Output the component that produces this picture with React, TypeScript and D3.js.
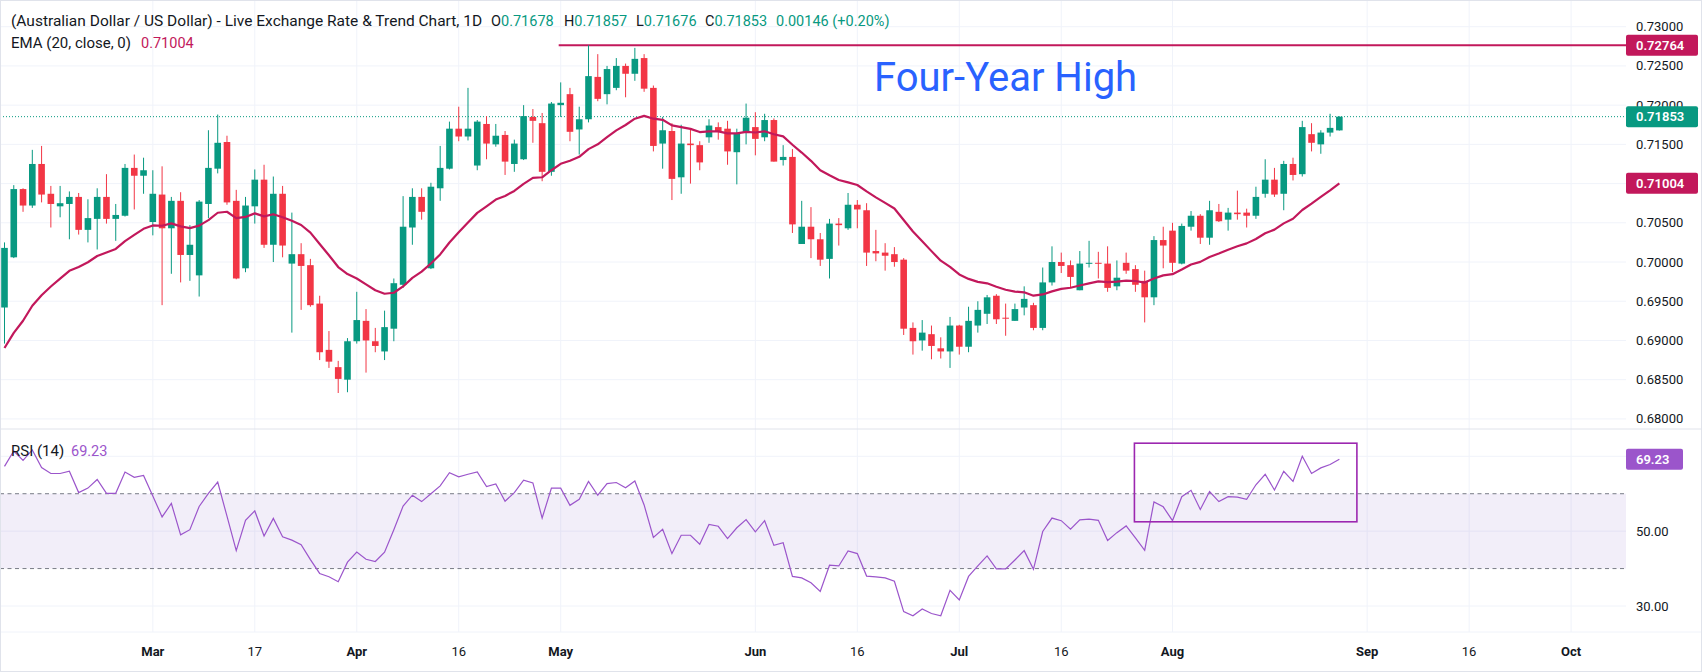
import React from 'react';
import * as d3 from 'd3';

// AUD/USD daily candles (first bar 2026-02-06, weekdays only)
const firstDay = '2026-02-06';
const opens = [
  0.6942, 0.7006, 0.7093, 0.7072, 0.7125, 0.7087, 0.7071, 0.7074, 0.7083, 0.7041,
  0.7055, 0.7083, 0.7055, 0.7059, 0.7120, 0.7110, 0.7051, 0.7086, 0.7043, 0.7078,
  0.7009, 0.6983, 0.7074, 0.7119, 0.7153, 0.7078, 0.6992, 0.7071, 0.7105, 0.7022,
  0.7087, 0.6998, 0.7010, 0.6996, 0.6947, 0.6888, 0.6866, 0.6850, 0.6899, 0.6925,
  0.6899, 0.6886, 0.6915, 0.6971, 0.7044, 0.7083, 0.6992, 0.7094, 0.7119, 0.7170,
  0.7160, 0.7123, 0.7176, 0.7150, 0.7162, 0.7125, 0.7131, 0.7185, 0.7177, 0.7115,
  0.7200, 0.7214, 0.7169, 0.7182, 0.7236, 0.7214, 0.7222, 0.7250, 0.7240, 0.7260,
  0.7222, 0.7151, 0.7167, 0.7108, 0.7151, 0.7149, 0.7159, 0.7172, 0.7170, 0.7140,
  0.7165, 0.7172, 0.7159, 0.7181, 0.7130, 0.7134, 0.7023, 0.7045, 0.7029, 0.7004,
  0.7049, 0.7043, 0.7073, 0.7066, 0.7014, 0.7012, 0.7010, 0.7003, 0.6916, 0.6900,
  0.6908, 0.6890, 0.6886, 0.6919, 0.6892, 0.6919, 0.6934, 0.6957, 0.6929, 0.6925,
  0.6942, 0.6945, 0.6916, 0.6974, 0.7000, 0.6996, 0.6964, 0.6998, 0.6999, 0.6998,
  0.6969, 0.6999, 0.6991, 0.6976, 0.6955, 0.7028, 0.7040, 0.6998, 0.7045, 0.7059,
  0.7031, 0.7064, 0.7054, 0.7063, 0.7063, 0.7059, 0.7087, 0.7105, 0.7087, 0.7125,
  0.7112, 0.7163, 0.7150, 0.7165, 0.71678,
];
const highs = [
  0.7025, 0.7098, 0.7094, 0.7143, 0.7148, 0.7097, 0.7097, 0.7090, 0.7088, 0.7080,
  0.7094, 0.7112, 0.7074, 0.7125, 0.7137, 0.7133, 0.7117, 0.7122, 0.7083, 0.7089,
  0.7047, 0.7079, 0.7168, 0.7188, 0.7161, 0.7092, 0.7083, 0.7118, 0.7124, 0.7109,
  0.7097, 0.7063, 0.7024, 0.7004, 0.6957, 0.6912, 0.6874, 0.6903, 0.6962, 0.6940,
  0.6916, 0.6938, 0.6979, 0.7084, 0.7094, 0.7094, 0.7101, 0.7148, 0.7179, 0.7198,
  0.7222, 0.7181, 0.7186, 0.7176, 0.7167, 0.7156, 0.7200, 0.7195, 0.7190, 0.7204,
  0.7229, 0.7222, 0.7198, 0.72764, 0.7265, 0.7250, 0.7260, 0.7253, 0.7273, 0.7265,
  0.7225, 0.7185, 0.7177, 0.7175, 0.7169, 0.7154, 0.7182, 0.7178, 0.7180, 0.7170,
  0.7202, 0.7191, 0.7189, 0.7183, 0.7149, 0.7144, 0.7078, 0.7070, 0.7037, 0.7055,
  0.7056, 0.7088, 0.7079, 0.7075, 0.7041, 0.7024, 0.7019, 0.7005, 0.6923, 0.6926,
  0.6919, 0.6904, 0.6930, 0.6920, 0.6943, 0.6950, 0.6958, 0.6959, 0.6947, 0.6947,
  0.6969, 0.6948, 0.6993, 0.7020, 0.7012, 0.7002, 0.7014, 0.7027, 0.7013, 0.7020,
  0.7002, 0.7012, 0.6996, 0.6989, 0.7033, 0.7045, 0.7050, 0.7049, 0.7065, 0.7061,
  0.7078, 0.7074, 0.7069, 0.7091, 0.7068, 0.7096, 0.7131, 0.7120, 0.7129, 0.7133,
  0.7180, 0.7177, 0.7168, 0.7189, 0.71857,
];
const lows = [
  0.6896, 0.7005, 0.7064, 0.7069, 0.7076, 0.7044, 0.7057, 0.7029, 0.7035, 0.7025,
  0.7016, 0.7049, 0.7027, 0.7058, 0.7067, 0.7087, 0.7034, 0.6945, 0.6985, 0.6974,
  0.6976, 0.6956, 0.7056, 0.7113, 0.7073, 0.6978, 0.6987, 0.7049, 0.7018, 0.7000,
  0.7006, 0.6910, 0.6939, 0.6943, 0.6875, 0.6865, 0.6833, 0.6834, 0.6896, 0.6859,
  0.6885, 0.6875, 0.6899, 0.6967, 0.7022, 0.7054, 0.6991, 0.7078, 0.7118, 0.7154,
  0.7155, 0.7117, 0.7131, 0.7147, 0.7111, 0.7115, 0.7130, 0.7152, 0.7103, 0.7110,
  0.7185, 0.7154, 0.7137, 0.7178, 0.7205, 0.7201, 0.7219, 0.7210, 0.7231, 0.7217,
  0.7141, 0.7119, 0.7079, 0.7087, 0.7100, 0.7117, 0.7152, 0.7156, 0.7124, 0.7099,
  0.7150, 0.7136, 0.7154, 0.7128, 0.7123, 0.7037, 0.7023, 0.7005, 0.6995, 0.6979,
  0.7021, 0.7041, 0.7043, 0.6995, 0.7001, 0.6989, 0.6994, 0.6907, 0.6882, 0.6887,
  0.6876, 0.6877, 0.6865, 0.6882, 0.6885, 0.6910, 0.6921, 0.6921, 0.6906, 0.6925,
  0.6932, 0.6913, 0.6913, 0.6970, 0.6986, 0.6967, 0.6964, 0.6993, 0.6979, 0.6962,
  0.6964, 0.6985, 0.6962, 0.6923, 0.6945, 0.6992, 0.6987, 0.6997, 0.7040, 0.7023,
  0.7022, 0.7051, 0.7040, 0.7054, 0.7044, 0.7055, 0.7082, 0.7083, 0.7066, 0.7104,
  0.7109, 0.7141, 0.7138, 0.7160, 0.71676,
];
const closes = [
  0.7018, 0.7093, 0.7072, 0.7125, 0.7086, 0.7074, 0.7075, 0.7083, 0.7041, 0.7056,
  0.7083, 0.7055, 0.7060, 0.7120, 0.7110, 0.7117, 0.7087, 0.7043, 0.7078, 0.7009,
  0.7022, 0.7077, 0.7120, 0.7152, 0.7076, 0.6979, 0.7072, 0.7105, 0.7022, 0.7087,
  0.7021, 0.7010, 0.6995, 0.6945, 0.6885, 0.6873, 0.6851, 0.6899, 0.6926, 0.6900,
  0.6893, 0.6917, 0.6973, 0.7045, 0.7083, 0.7064, 0.7096, 0.7120, 0.7170, 0.7160,
  0.7170, 0.7179, 0.7151, 0.7161, 0.7128, 0.7151, 0.7186, 0.7180, 0.7115, 0.7202,
  0.7203, 0.7166, 0.7182, 0.7237, 0.7208, 0.7246, 0.7250, 0.7240, 0.7259, 0.7221,
  0.7148, 0.7168, 0.7106, 0.7151, 0.7149, 0.7127, 0.7174, 0.7167, 0.7141, 0.7164,
  0.7184, 0.7157, 0.7181, 0.7128, 0.7134, 0.7048, 0.7045, 0.7029, 0.7003, 0.7049,
  0.7047, 0.7073, 0.7067, 0.7012, 0.7011, 0.7008, 0.7000, 0.6915, 0.6899, 0.6910,
  0.6893, 0.6886, 0.6919, 0.6892, 0.6925, 0.6939, 0.6955, 0.6927, 0.6928, 0.6940,
  0.6953, 0.6916, 0.6974, 0.7000, 0.6995, 0.6981, 0.6998, 0.6999, 0.6998, 0.6967,
  0.6980, 0.6989, 0.6971, 0.6955, 0.7028, 0.7021, 0.6999, 0.7046, 0.7059, 0.7031,
  0.7066, 0.7052, 0.7063, 0.7061, 0.7059, 0.7083, 0.7105, 0.7086, 0.7125, 0.7111,
  0.7172, 0.7152, 0.7165, 0.7171, 0.71853,
];
// RSI(14) line
const rsiValues = [
  67.3, 71.4, 68.9, 71.7, 67.0, 65.4, 65.4, 66.0, 60.3, 61.5,
  63.8, 60.1, 60.1, 65.8, 64.4, 64.9, 59.4, 53.8, 57.4, 49.0,
  50.4, 56.6, 60.1, 63.1, 54.0, 44.8, 52.9, 55.4, 48.7, 53.4,
  48.5, 47.6, 46.4, 42.4, 38.7, 37.8, 36.5, 41.7, 44.4, 42.5,
  41.9, 44.4, 50.4, 56.7, 59.6, 57.9, 60.0, 62.1, 65.6, 64.5,
  65.2, 65.8, 61.9, 62.6, 58.0, 60.3, 63.6, 62.9, 53.5, 61.5,
  61.5, 56.9, 58.5, 63.3, 59.6, 62.7, 63.0, 61.6, 63.4, 57.0,
  48.3, 50.5, 44.0, 48.9, 48.9, 46.5, 51.8, 51.3, 48.0, 50.9,
  53.1, 49.8, 52.8, 46.2, 46.9, 37.9, 37.5, 36.2, 33.9, 40.9,
  40.7, 44.7, 44.0, 38.0, 37.8, 37.5, 36.6, 28.5, 27.4, 29.2,
  28.0, 27.4, 34.2, 31.6, 37.9, 40.7, 43.4, 39.9, 39.9, 42.3,
  44.8, 39.8, 49.9, 53.5, 52.8, 50.5, 53.0, 53.2, 52.9, 47.5,
  49.6, 51.4, 48.2, 44.9, 57.8, 56.5, 52.8, 59.2, 60.9, 55.8,
  60.6, 57.9, 59.2, 59.1, 58.5, 62.4, 65.2, 61.0, 66.0, 63.3,
  70.0, 65.4, 66.9, 67.8, 69.23,
];

const emaBefore = 0.6877; // EMA(20) value just before the first visible bar
const emaLength = 20;

const priceTicks = [0.68, 0.685, 0.69, 0.695, 0.7, 0.705, 0.71, 0.715, 0.72, 0.725, 0.73];
const rsiTicks = [30, 50, 70];
const rsiBand = [40, 60];
const timeTicks = [
  { date: '2026-03-02', label: 'Mar', month: true },
  { date: '2026-03-17', label: '17', month: false },
  { date: '2026-04-01', label: 'Apr', month: true },
  { date: '2026-04-16', label: '16', month: false },
  { date: '2026-05-01', label: 'May', month: true },
  { date: '2026-06-01', label: 'Jun', month: true },
  { date: '2026-06-16', label: '16', month: false },
  { date: '2026-07-01', label: 'Jul', month: true },
  { date: '2026-07-16', label: '16', month: false },
  { date: '2026-08-03', label: 'Aug', month: true },
  { date: '2026-09-01', label: 'Sep', month: true },
  { date: '2026-09-16', label: '16', month: false },
  { date: '2026-10-01', label: 'Oct', month: true },
];

const highLevel = 0.72764;
const highFrom = '2026-05-01';
const rsiBox = { from: '2026-07-28', to: '2026-08-31', top: 73.5, bottom: 52.5 };

const title = '(Australian Dollar / US Dollar) - Live Exchange Rate & Trend Chart, 1D';
const changeText = '0.00146 (+0.20%)';
const annotation = 'Four-Year High';

const W = 1702;
const H = 672;
const PANE_R = 1626;
const PRICE_B = 429;
const RSI_B = 632;
const GREEN = '#089981';
const RED = '#F23645';
const EMA_C = '#C2185B';
const RSI_C = '#9B55CB';
const GRID = '#F0F3FA';
const TEXT = '#131722';
const FONT = "Roboto, 'Noto Sans', sans-serif";

function tradingDays(start: string, n: number): string[] {
  const out: string[] = [];
  let d = new Date(start + 'T00:00:00Z');
  while (out.length < n) {
    const wd = d.getUTCDay();
    if (wd !== 0 && wd !== 6) out.push(d.toISOString().slice(0, 10));
    d = new Date(d.getTime() + 86400000);
  }
  return out;
}

const App: React.FC = () => {
  const days = tradingDays(firstDay, 180);
  const idx = (date: string) => days.indexOf(date);

  const x = d3.scaleLinear().domain([0, 169]).range([4.5, 1571.1]);
  const y = d3.scaleLinear().domain([0.68, 0.73]).range([418.9, 26.7]);
  const ry = d3.scaleLinear().domain([30, 70]).range([606, 456.3]);
  const bodyW = 6.6;

  const k = 2 / (emaLength + 1);
  const ema: number[] = [];
  let prev = emaBefore;
  closes.forEach((c) => {
    prev = prev + k * (c - prev);
    ema.push(prev);
  });

  const emaLine = d3.line<number>().x((_, i) => x(i)).y((d) => y(d));
  const rsiLine = d3.line<number>().x((_, i) => x(i)).y((d) => ry(d));

  const last = closes.length - 1;
  const fmt5 = d3.format('.5f');
  const fmt2 = d3.format('.2f');

  const priceBox = (v: number, label: string, color: string) => (
    <g key={label}>
      <rect x={PANE_R} y={y(v) - 10.5} width={72} height={21} rx={2} fill={color} />
      <text x={1636} y={y(v) + 4.5} fill="#fff" fontSize={13} fontWeight={600}>{label}</text>
    </g>
  );

  // legend pieces: [letter, value, x of the letter]
  const ohlc: [string, number, number][] = [
    ['O', opens[last], 491],
    ['H', highs[last], 564],
    ['L', lows[last], 636],
    ['C', closes[last], 705],
  ];

  return (
    <>
      <style>{'html,body{margin:0;padding:0;background:#fff}'}</style>
      <svg width={W} height={H} style={{ display: 'block', fontFamily: FONT }}>
        <defs>
          <clipPath id="pricePane"><rect x={0} y={0} width={PANE_R} height={PRICE_B} /></clipPath>
          <clipPath id="rsiPane"><rect x={0} y={PRICE_B} width={PANE_R} height={RSI_B - PRICE_B} /></clipPath>
        </defs>
        <rect x={0} y={0} width={W} height={H} fill="#fff" />

        {/* grid */}
        {timeTicks.map((t) => (
          <line key={t.date} x1={x(idx(t.date))} x2={x(idx(t.date))} y1={0} y2={RSI_B} stroke={GRID} />
        ))}
        {priceTicks.map((p) => (
          <line key={p} x1={0} x2={PANE_R} y1={y(p)} y2={y(p)} stroke={GRID} />
        ))}
        {rsiTicks.map((r) => (
          <line key={r} x1={0} x2={PANE_R} y1={ry(r)} y2={ry(r)} stroke={GRID} />
        ))}

        {/* price pane */}
        <g clipPath="url(#pricePane)">
          <line x1={0} x2={PANE_R} y1={y(closes[last])} y2={y(closes[last])} stroke={GREEN} strokeDasharray="1 2" />
          <line x1={x(idx(highFrom)) - 2} x2={PANE_R} y1={y(highLevel)} y2={y(highLevel)} stroke={EMA_C} strokeWidth={2} />
          {closes.map((c, i) => {
            const o = opens[i];
            const col = c >= o ? GREEN : RED;
            const top = y(Math.max(o, c));
            const bot = y(Math.min(o, c));
            return (
              <g key={i}>
                <line x1={x(i)} x2={x(i)} y1={y(highs[i])} y2={y(lows[i])} stroke={col} strokeWidth={1} />
                <rect x={x(i) - bodyW / 2} y={top} width={bodyW} height={Math.max(1, bot - top)} fill={col} />
              </g>
            );
          })}
          <path d={emaLine(ema) || ''} fill="none" stroke={EMA_C} strokeWidth={2.2} strokeLinejoin="round" />
          <text x={874} y={91} fill="#2962FF" fontSize={40}>{annotation}</text>
        </g>

        {/* rsi pane */}
        <g clipPath="url(#rsiPane)">
          <rect x={0} y={ry(rsiBand[1])} width={PANE_R} height={ry(rsiBand[0]) - ry(rsiBand[1])} fill="rgba(126,87,194,0.1)" />
          {rsiBand.map((b) => (
            <line key={b} x1={0} x2={PANE_R} y1={ry(b)} y2={ry(b)} stroke="#787B86" strokeDasharray="4 3.5" />
          ))}
          <path d={rsiLine(rsiValues) || ''} fill="none" stroke={RSI_C} strokeWidth={1.2} />
          <rect
            x={x(idx(rsiBox.from)) - 1}
            y={ry(rsiBox.top)}
            width={x(idx(rsiBox.to)) - x(idx(rsiBox.from))}
            height={ry(rsiBox.bottom) - ry(rsiBox.top)}
            fill="none"
            stroke="#9C27B0"
            strokeWidth={1.6}
          />
        </g>

        {/* pane borders */}
        <line x1={0} x2={W} y1={PRICE_B} y2={PRICE_B} stroke="#E0E3EB" />
        <line x1={0} x2={W} y1={RSI_B} y2={RSI_B} stroke="#F0F3FA" />
        <rect x={0.5} y={0.5} width={W - 1} height={H - 1} fill="none" stroke="#E0E3EB" />

        {/* legends */}
        <text x={11} y={25.5} fontSize={15.5} fill={TEXT}>{title}</text>
        {ohlc.map(([letter, v, lx]) => (
          <text key={letter} x={lx} y={25.5} fontSize={14.5} fill={TEXT}>
            {letter}<tspan fill={GREEN}>{fmt5(v)}</tspan>
          </text>
        ))}
        <text x={776} y={25.5} fontSize={14.5} fill={GREEN}>{changeText}</text>
        <text x={11} y={48} fontSize={15} fill={TEXT}>EMA (20, close, 0)</text>
        <text x={141} y={48} fontSize={14.5} fill={EMA_C}>{fmt5(ema[last])}</text>
        <text x={11} y={456} fontSize={15} fill={TEXT}>RSI (14)</text>
        <text x={71} y={456} fontSize={14.5} fill={RSI_C}>{fmt2(rsiValues[last])}</text>

        {/* price axis */}
        {priceTicks.map((p) => (
          <text key={p} x={1636} y={y(p) + 4.5} fontSize={13} fill={TEXT}>{fmt5(p)}</text>
        ))}
        {rsiTicks.map((r) => (
          <text key={r} x={1636} y={ry(r) + 4.5} fontSize={13} fill={TEXT}>{fmt2(r)}</text>
        ))}
        {priceBox(highLevel, fmt5(highLevel), EMA_C)}
        {priceBox(closes[last], fmt5(closes[last]), GREEN)}
        {priceBox(ema[last], fmt5(ema[last]), EMA_C)}
        <rect x={PANE_R} y={ry(rsiValues[last]) - 10.5} width={57} height={21} rx={2} fill={RSI_C} />
        <text x={1636} y={ry(rsiValues[last]) + 4.5} fill="#fff" fontSize={13} fontWeight={600}>{fmt2(rsiValues[last])}</text>

        {/* time axis */}
        {timeTicks.map((t) => (
          <text
            key={t.date}
            x={x(idx(t.date))}
            y={656}
            textAnchor="middle"
            fontSize={13}
            fontWeight={t.month ? 700 : 400}
            fill={TEXT}
          >
            {t.label}
          </text>
        ))}
      </svg>
    </>
  );
};

export default App;
